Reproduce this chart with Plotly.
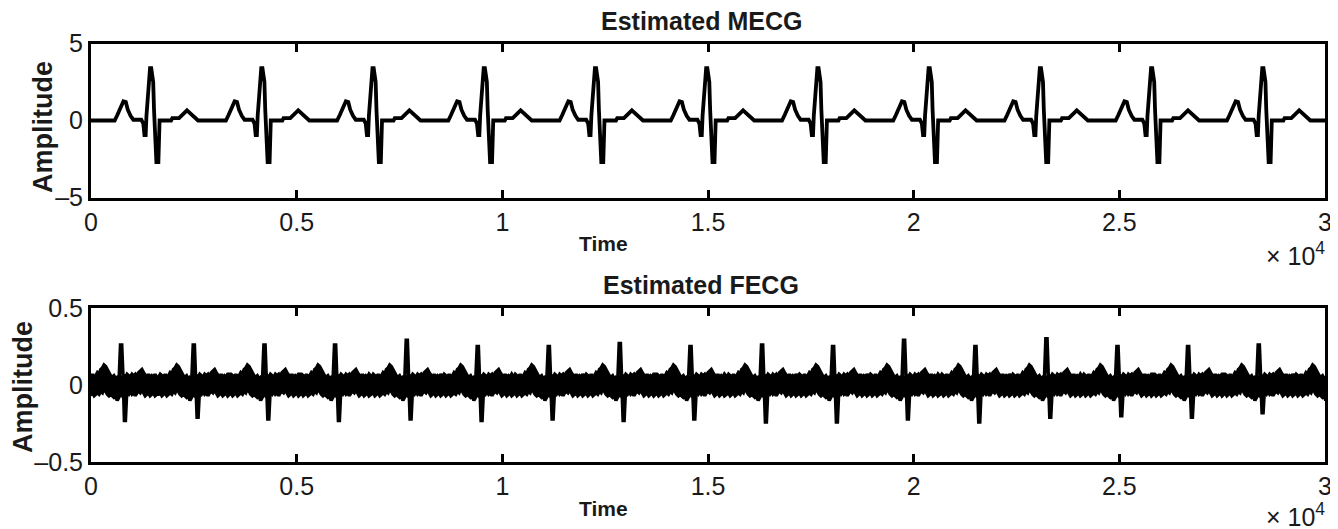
import plotly.graph_objects as go

# ---------------- data ----------------
# Maternal ECG: R-peak sample positions and one beat shape (offset in samples, amplitude)
M_BEATS = [1464, 4168, 6872, 9576, 12280, 14984, 17688, 20392, 23096, 25800, 28504]
M_DT = [-889, -821, -753, -676, -618, -570, -502, -435, -241, -193, -164, -135, -116, -87, -58,
        -29, 0, 48, 68, 97, 126, 174, 203, 483, 512, 676, 869, 1140]
M_AMP = [0.0, 0.37, 0.8, 1.25, 1.2, 0.7, 0.3, 0.05, 0.05, -0.2, -0.95, -0.95, 0.3, 1.7, 2.0,
         3.4, 3.4, 2.5, 0.7, -1.1, -2.7, -2.7, 0.0, 0.0, 0.15, 0.15, 0.66, 0.0]

# Fetal ECG: spike positions, spike peak / trough per beat
F_BEATS = [737, 2504, 4223, 5939, 7682, 9408, 11135, 12861, 14580, 16320, 18046, 19772,
           21507, 23233, 24960, 26677, 28395, 30120]
F_PEAK = [0.26, 0.26, 0.26, 0.26, 0.29, 0.25, 0.25, 0.27, 0.25, 0.26, 0.25, 0.29,
          0.25, 0.30, 0.25, 0.25, 0.26, 0.26]
F_TROUGH = [-0.23, -0.21, -0.22, -0.23, -0.22, -0.23, -0.22, -0.23, -0.22, -0.24, -0.24, -0.22,
            -0.24, -0.21, -0.20, -0.21, -0.18, -0.22]
# spike shape (offset, fraction: 1 = peak, -1 = trough)
S_DT = [-60, -20, 10, 50, 75, 100, 140]
S_FR = [0, 1, 1, 0, -1, -1, 0]
# noise band envelope around each fetal beat
F_DT = [-860, -820, -780, -740, -700, -660, -620, -580, -540, -500, -460, -420, -380, -340, -300,
        -260, -220, -180, -140, -100, -60, -20, 20, 60, 100, 140, 180, 220, 260, 300, 340, 380,
        420, 460, 500, 540, 580, 620, 660, 700, 740, 780, 820, 860]
F_UP = [0.05, 0.07, 0.06, 0.05, 0.07, 0.05, 0.06, 0.08, 0.07, 0.10, 0.11, 0.13, 0.12, 0.10, 0.07,
        0.06, 0.05, 0.06, 0.04, 0.05, 0.04, 0.05, 0.04, 0.06, 0.05, 0.07, 0.06, 0.05, 0.07, 0.06,
        0.07, 0.05, 0.08, 0.09, 0.10, 0.08, 0.06, 0.05, 0.07, 0.05, 0.06, 0.05, 0.07, 0.05]
F_LO = [-0.06, -0.05, -0.07, -0.06, -0.05, -0.07, -0.06, -0.05, -0.06, -0.04, -0.05, -0.02, -0.04, -0.06, -0.07,
        -0.06, -0.07, -0.08, -0.07, -0.10, -0.08, -0.06, -0.07, -0.05, -0.07, -0.05, -0.06, -0.04, -0.06, -0.05,
        -0.07, -0.05, -0.04, -0.05, -0.03, -0.05, -0.07, -0.06, -0.05, -0.07, -0.06, -0.05, -0.07, -0.06]

X_TICKS = [0, 5000, 10000, 15000, 20000, 25000, 30000]
X_TEXT = ["0", "0.5", "1", "1.5", "2", "2.5", "3"]
Y1_TICKS, Y1_TEXT = [-5, 0, 5], ["\u20135", "0", "5"]
Y2_TICKS, Y2_TEXT = [-0.5, 0, 0.5], ["\u20130.5", "0", "0.5"]
N = 30000

# ---------------- build series ----------------
mx, my = [0], [0.0]
for b in M_BEATS:
    for d, a in zip(M_DT, M_AMP):
        mx.append(b + d)
        my.append(a)
mx.append(N)
my.append(0.0)

sx, sy = [0], [0.0]
for b, p, t in zip(F_BEATS, F_PEAK, F_TROUGH):
    for d, f in zip(S_DT, S_FR):
        sx.append(b + d)
        sy.append(p * f if f > 0 else (-t * f if f < 0 else 0.0))
sx.append(F_BEATS[-1] + 200)
sy.append(0.0)

ux, uy, lx, ly = [], [], [], []
for i, b in enumerate(F_BEATS):
    lo_lim = (b + F_BEATS[i - 1]) / 2 if i > 0 else -1e9
    hi_lim = (b + F_BEATS[i + 1]) / 2 if i < len(F_BEATS) - 1 else 1e9
    for d, u, l in zip(F_DT, F_UP, F_LO):
        x = b + d
        if lo_lim <= x < hi_lim:
            ux.append(x); uy.append(u)
            lx.append(x); ly.append(l)
bx = ux + lx[::-1]
by = uy + ly[::-1]

fig = go.Figure()
fig.add_trace(go.Scatter(x=mx, y=my, mode="lines", line=dict(color="black", width=3.8),
                         xaxis="x", yaxis="y", showlegend=False, hoverinfo="skip"))
fig.add_trace(go.Scatter(x=bx, y=by, mode="lines", fill="toself", fillcolor="black",
                         line=dict(color="black", width=3.5),
                         xaxis="x2", yaxis="y2", showlegend=False, hoverinfo="skip"))
fig.add_trace(go.Scatter(x=sx, y=sy, mode="lines", line=dict(color="black", width=3.5),
                         xaxis="x2", yaxis="y2", showlegend=False, hoverinfo="skip"))

# page body offsets the figure by 8px; layout expressed in screen pixels
OFF = 8
W, H = 1338 - OFF, 529 - OFF
PL, PR = 91, 1325          # plot area left/right on screen
L = PL - OFF
PW = PR - PL


def px(x):
    return (x - PL) / PW


def py(y):
    return 1 - (y - OFF) / H


tickfont = dict(family="Liberation Sans, Arial, sans-serif", size=25, color="#1a1a1a")
axis_common = dict(showline=True, linecolor="black", linewidth=3, mirror="ticks",
                   ticks="inside", ticklen=8, tickwidth=2.5, tickcolor="black",
                   showgrid=False, zeroline=False, tickfont=tickfont, automargin=False)

fig.update_layout(
    template="none",
    width=W, height=H, margin=dict(l=L, r=1338 - PR, t=0, b=0, pad=0),
    paper_bgcolor="white", plot_bgcolor="white", showlegend=False,
    xaxis=dict(domain=[0, 1], range=[0, N], tickvals=X_TICKS, ticktext=X_TEXT,
               anchor="y", **axis_common),
    yaxis=dict(domain=[py(197.5), py(43.5)], range=[-5, 5], tickvals=Y1_TICKS, ticktext=Y1_TEXT,
               anchor="x", **axis_common),
    xaxis2=dict(domain=[0, 1], range=[0, N], tickvals=X_TICKS, ticktext=X_TEXT,
                anchor="y2", **axis_common),
    yaxis2=dict(domain=[py(462), py(308)], range=[-0.5, 0.5], tickvals=Y2_TICKS, ticktext=Y2_TEXT,
                anchor="x2", **axis_common),
)

bold = dict(family="Liberation Sans, Arial, sans-serif", size=25, color="#1a1a1a")
ann = [
    dict(text="<b>Estimated MECG</b>", x=px(701), y=py(21), font=bold),
    dict(text="<b>Estimated FECG</b>", x=px(701), y=py(285), font=bold),
    dict(text="<b>Time</b>", x=px(603), y=py(243), font=dict(bold, size=21)),
    dict(text="<b>Time</b>", x=px(603), y=py(508), font=dict(bold, size=21)),
    dict(text="<b>Amplitude</b>", x=px(43), y=py(127), font=dict(bold, size=27), textangle=-90),
    dict(text="<b>Amplitude</b>", x=px(23), y=py(387), font=dict(bold, size=27), textangle=-90),
]
for a in ann:
    fig.add_annotation(xref="paper", yref="paper", showarrow=False, xanchor="center", yanchor="middle",
                       borderpad=0, **a)
for yy in (254, 515):
    fig.add_annotation(xref="paper", yref="paper", showarrow=False, xanchor="right", yanchor="middle",
                       x=px(1326), y=py(yy), text="\u00d7 10<sup>4</sup>", borderpad=0,
                       font=dict(family="Liberation Sans, Arial, sans-serif", size=25, color="#1a1a1a"))

fig.write_html("out.html")
